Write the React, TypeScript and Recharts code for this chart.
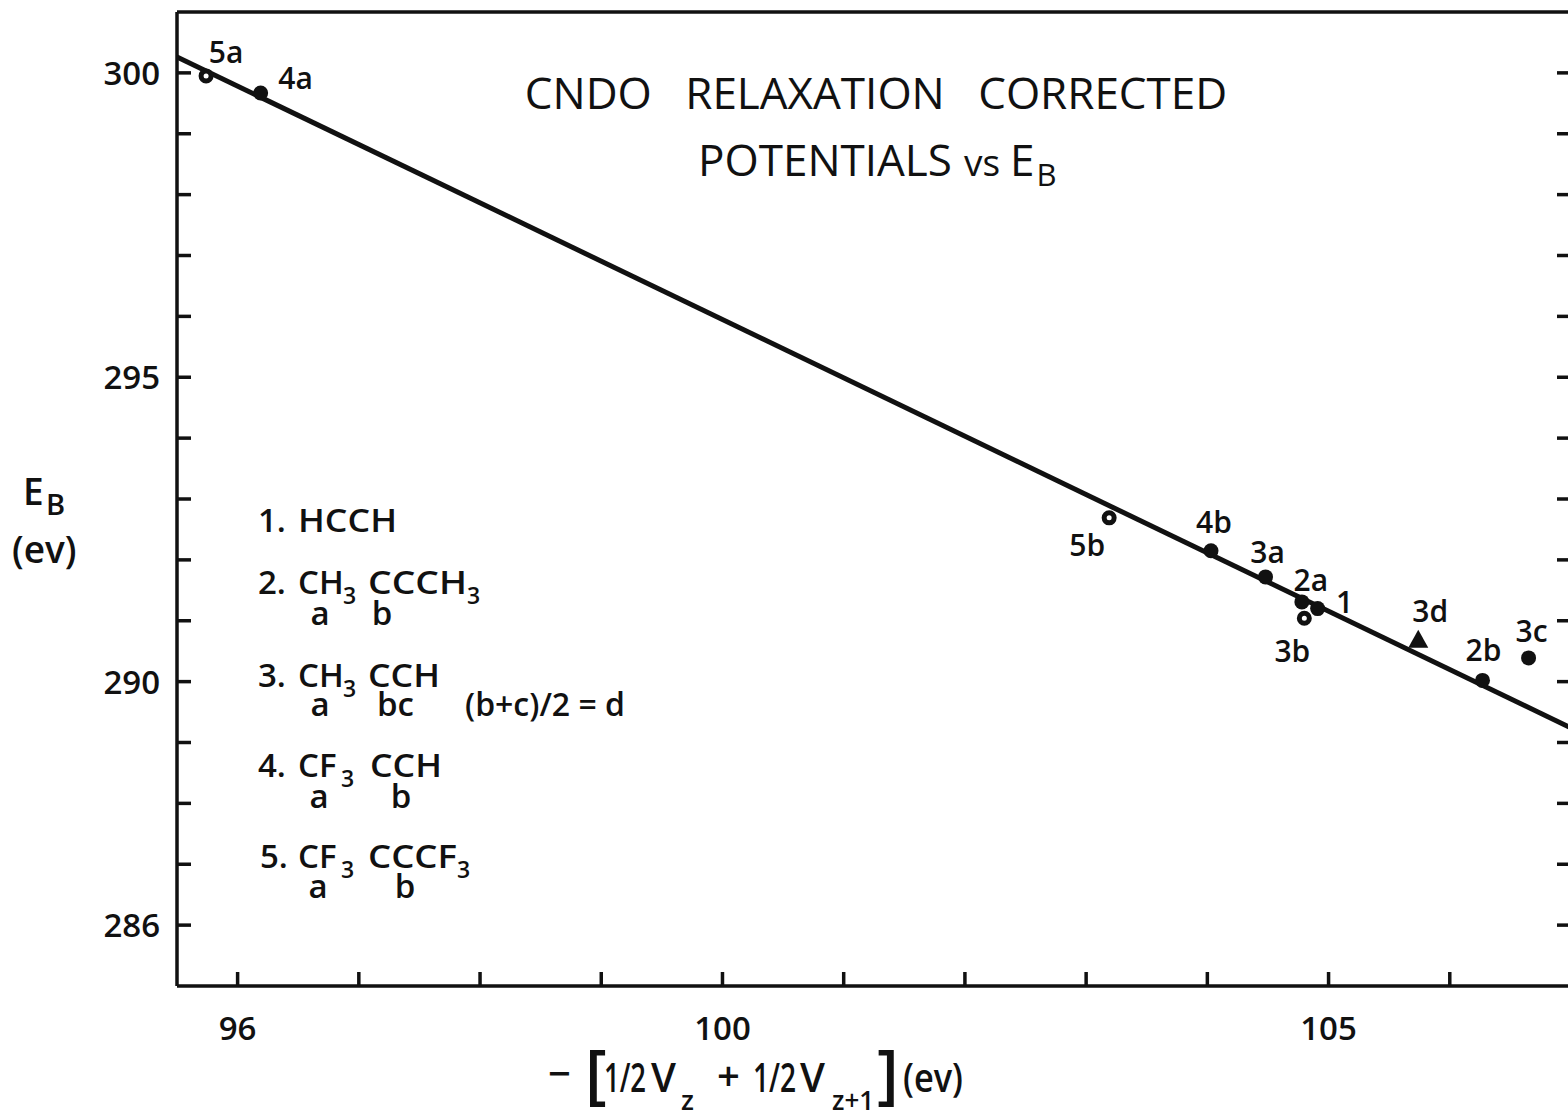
import React from "react";
import { ScatterChart, Scatter, XAxis, YAxis } from "recharts";

// points: -[1/2 Vz + 1/2 Vz+1] (ev) vs E_B (ev)
const pointLabels = ["5a", "4a", "5b", "4b", "3a", "2a", "1", "3b", "3d", "2b", "3c"];
const potentials = [95.74, 96.19, 103.19, 104.03, 104.48, 104.78, 104.91, 104.8, 105.74, 106.27, 106.65];
const bindingEnergies = [299.95, 299.67, 292.69, 292.15, 291.72, 291.31, 291.2, 291.04, 290.67, 290.02, 290.39];
const markerKinds = ["ring", "dot", "ring", "dot", "dot", "dot", "dot", "ring", "triangle", "dot", "dot"];

// fitted straight line, end points
const fitX = [95.5, 107];
const fitY = [300.26, 289.24];

const xTicks = [96, 97, 98, 99, 100, 101, 102, 103, 104, 105, 106];
const xTickLabels = [96, 100, 105];
const yTicks = [286, 287, 288, 289, 290, 291, 292, 293, 294, 295, 296, 297, 298, 299, 300];
const yTickLabels = [286, 290, 295, 300];

// where each point label sits relative to its marker
const labelOffsets: Record<string, [number, number]> = {
  "5a": [20, -24],
  "4a": [35, -15],
  "5b": [-22, 27],
  "4b": [3, -29],
  "3a": [2, -25],
  "2a": [9, -22],
  "1": [27, -7],
  "3b": [-12, 32],
  "3d": [12, -30],
  "2b": [1, -31],
  "3c": [3, -27],
};

const points = pointLabels.map((label, i) => ({
  x: potentials[i],
  y: bindingEnergies[i],
  label,
  kind: markerKinds[i],
}));
const fitData = fitX.map((x, i) => ({ x, y: fitY[i] }));

const INK = "#111";
const FONT = "'Open Sans', sans-serif";
const WEIGHT = 600;
const TICK = 14;
const W = 1575;
const H = 1118;

const BottomTick = (props: any) => {
  const { x, y, payload } = props;
  return (
    <g>
      <line x1={x} y1={y} x2={x} y2={y - TICK} stroke={INK} strokeWidth={3.5} />
      {xTickLabels.includes(payload.value) && (
        <text x={x} y={y + 54} textAnchor="middle" fontSize={33} fontFamily={FONT} fontWeight={WEIGHT} fill={INK}>
          {payload.value}
        </text>
      )}
    </g>
  );
};

const TopTick = (props: any) => {
  const { x, y } = props;
  return <line x1={x} y1={y} x2={x} y2={y + TICK} stroke={INK} strokeWidth={3.5} />;
};

const LeftTick = (props: any) => {
  const { x, y, payload } = props;
  return (
    <g>
      <line x1={x} y1={y} x2={x + TICK} y2={y} stroke={INK} strokeWidth={3.5} />
      {yTickLabels.includes(payload.value) && (
        <text x={x - 17} y={y + 12} textAnchor="end" fontSize={33} fontFamily={FONT} fontWeight={WEIGHT} fill={INK}>
          {payload.value}
        </text>
      )}
    </g>
  );
};

const RightTick = (props: any) => {
  const { x, y } = props;
  return <line x1={x} y1={y} x2={x - TICK} y2={y} stroke={INK} strokeWidth={3.5} />;
};

const PointMark = (props: any) => {
  const { cx, cy } = props;
  const p = props.payload ?? props;
  const [dx, dy] = labelOffsets[p.label] ?? [0, -25];
  let mark;
  if (p.kind === "triangle") {
    mark = <polygon points={`${cx},${cy - 11} ${cx - 10},${cy + 7} ${cx + 10},${cy + 7}`} fill={INK} />;
  } else if (p.kind === "ring") {
    mark = <circle cx={cx} cy={cy} r={5} fill="#fff" stroke={INK} strokeWidth={5} />;
  } else {
    mark = <circle cx={cx} cy={cy} r={7.5} fill={INK} />;
  }
  return (
    <g>
      {mark}
      <text
        x={cx + dx}
        y={cy + dy}
        textAnchor="middle"
        dominantBaseline="central"
        fontSize={30}
        fontFamily={FONT}
        fontWeight={WEIGHT}
        fill={INK}
      >
        {p.label}
      </text>
    </g>
  );
};

const NoMark = () => <g />;

const T = (p: {
  x: number;
  y: number;
  s?: number;
  len?: number;
  a?: "start" | "middle" | "end";
  ws?: number;
  w?: number;
  children: React.ReactNode;
}) => (
  <text
    x={p.x}
    y={p.y}
    fontSize={p.s ?? 33}
    fontFamily={FONT}
    fontWeight={p.w ?? WEIGHT}
    fill={INK}
    textAnchor={p.a ?? "start"}
    textLength={p.len}
    lengthAdjust={p.len ? "spacingAndGlyphs" : undefined}
    wordSpacing={p.ws}
  >
    {p.children}
  </text>
);

function Annotations() {
  return (
    <svg
      width={1568}
      height={1118}
      style={{ position: "absolute", left: 0, top: 0, pointerEvents: "none" }}
    >
      {/* title */}
      <T x={876} y={109} s={44} a="middle" ws={22} w={400}>CNDO RELAXATION CORRECTED</T>
      <text x={698} y={176} fontSize={44} fontFamily={FONT} fontWeight={400} fill={INK}>
        POTENTIALS
        <tspan fontSize={37} dx={12}>vs</tspan>
        <tspan dx={10}>E</tspan>
        <tspan fontSize={31} dy={10} dx={2}>B</tspan>
      </text>

      {/* y axis title */}
      <T x={23} y={505} s={37}>E</T>
      <T x={46} y={515} s={29}>B</T>
      <T x={12} y={563} s={37}>(ev)</T>

      {/* x axis title */}
      <T x={548} y={1088} s={40}>−</T>
      <T x={585} y={1097} s={66}>[</T>
      <T x={604} y={1092} s={40} len={42}>1/2</T>
      <T x={651} y={1092} s={40}>V</T>
      <T x={681} y={1110} s={27}>z</T>
      <T x={717} y={1090} s={40}>+</T>
      <T x={753} y={1092} s={40} len={43}>1/2</T>
      <T x={800} y={1092} s={40}>V</T>
      <T x={832} y={1110} s={27} len={42}>z+1</T>
      <T x={877} y={1097} s={66}>]</T>
      <T x={903} y={1092} s={40} len={60}>(ev)</T>

      {/* key */}
      <T x={258} y={532}>1.</T>
      <T x={298} y={532} len={99}>HCCH</T>

      <T x={258} y={594}>2.</T>
      <T x={298} y={594}>CH</T>
      <T x={343} y={604} s={23}>3</T>
      <T x={368} y={594} len={99}>CCCH</T>
      <T x={467} y={604} s={23}>3</T>
      <T x={320} y={625} a="middle">a</T>
      <T x={382} y={625} a="middle">b</T>

      <T x={258} y={687}>3.</T>
      <T x={298} y={687}>CH</T>
      <T x={343} y={697} s={23}>3</T>
      <T x={368} y={687} len={72}>CCH</T>
      <T x={320} y={716} a="middle">a</T>
      <T x={377} y={716}>bc</T>
      <T x={465} y={716} len={160}>(b+c)/2 = d</T>

      <T x={258} y={777}>4.</T>
      <T x={298} y={777}>CF</T>
      <T x={341} y={787} s={23}>3</T>
      <T x={370} y={777} len={72}>CCH</T>
      <T x={319} y={808} a="middle">a</T>
      <T x={401} y={808} a="middle">b</T>

      <T x={260} y={868}>5.</T>
      <T x={298} y={868}>CF</T>
      <T x={341} y={878} s={23}>3</T>
      <T x={368} y={868} len={89}>CCCF</T>
      <T x={457} y={878} s={23}>3</T>
      <T x={318} y={898} a="middle">a</T>
      <T x={405} y={898} a="middle">b</T>
    </svg>
  );
}

export default function App() {
  const axisLine = { stroke: INK, strokeWidth: 3.5 };
  return (
    <div
      style={{
        position: "absolute",
        left: 0,
        top: 0,
        width: 1568,
        height: 1118,
        overflow: "hidden",
        background: "#fff",
      }}
    >
      <ScatterChart width={W} height={H} margin={{ top: 0, right: 0, bottom: 0, left: 0 }}>
        <XAxis
          xAxisId="b"
          orientation="bottom"
          type="number"
          dataKey="x"
          domain={[95.5, 107]}
          allowDataOverflow
          ticks={xTicks}
          interval={0}
          height={132}
          tickSize={0}
          tickMargin={0}
          tickLine={false}
          axisLine={axisLine}
          tick={<BottomTick />}
        />
        <XAxis
          xAxisId="t"
          orientation="top"
          type="number"
          domain={[95.5, 107]}
          allowDataOverflow
          ticks={xTicks}
          interval={0}
          height={12}
          tickSize={0}
          tickMargin={0}
          tickLine={false}
          axisLine={axisLine}
          tick={<TopTick />}
        />
        <YAxis
          yAxisId="l"
          orientation="left"
          type="number"
          dataKey="y"
          domain={[285, 301]}
          allowDataOverflow
          ticks={yTicks}
          interval={0}
          width={177}
          tickSize={0}
          tickMargin={0}
          tickLine={false}
          axisLine={axisLine}
          tick={<LeftTick />}
        />
        <YAxis
          yAxisId="r"
          orientation="right"
          type="number"
          domain={[285, 301]}
          allowDataOverflow
          ticks={yTicks}
          interval={0}
          width={4}
          tickSize={0}
          tickMargin={0}
          tickLine={false}
          axisLine={axisLine}
          tick={<RightTick />}
        />
        <Scatter
          xAxisId="b"
          yAxisId="l"
          data={fitData}
          line={{ stroke: INK, strokeWidth: 5 }}
          shape={NoMark}
          isAnimationActive={false}
        />
        <Scatter
          xAxisId="b"
          yAxisId="l"
          data={points}
          shape={PointMark}
          isAnimationActive={false}
        />
      </ScatterChart>
      <Annotations />
    </div>
  );
}
